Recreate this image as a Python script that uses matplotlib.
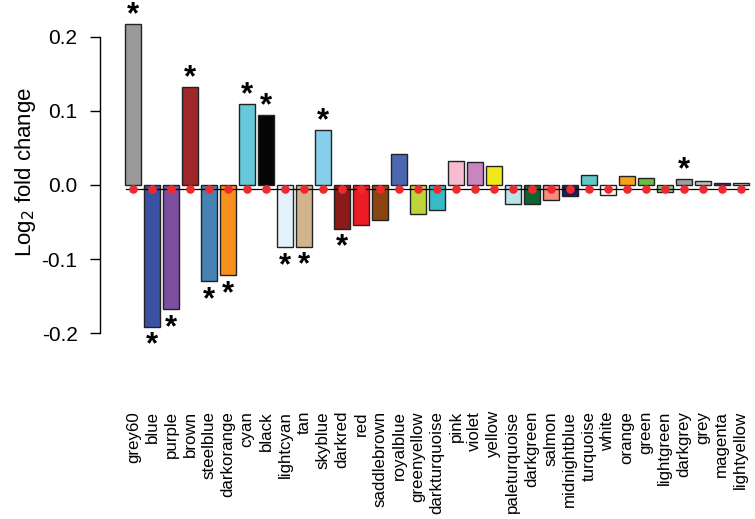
import matplotlib
matplotlib.use("Agg")
import matplotlib.pyplot as plt
import matplotlib.transforms as mtransforms
from matplotlib.textpath import TextPath
from matplotlib.font_manager import FontProperties
import numpy as np

plt.rcParams['font.family'] = ['Liberation Sans', 'DejaVu Sans']

categories = ["grey60", "blue", "purple", "brown", "steelblue", "darkorange", "cyan",
              "black", "lightcyan", "tan", "skyblue", "darkred", "red", "saddlebrown",
              "royalblue", "greenyellow", "darkturquoise", "pink", "violet", "yellow",
              "paleturquoise", "darkgreen", "salmon", "midnightblue", "turquoise", "white",
              "orange", "green", "lightgreen", "darkgrey", "grey", "magenta", "lightyellow"]
values = [0.2166, -0.191, -0.1676, 0.1317, -0.1299, -0.1218, 0.1092,
          0.0939, -0.084, -0.0836, 0.0746, -0.0593, -0.0539, -0.0476,
          0.0413, -0.0387, -0.0342, 0.0324, 0.031, 0.0261,
          -0.0261, -0.0256, -0.0198, -0.0153, 0.013, -0.0135,
          0.0117, 0.0099, -0.0099, 0.0085, 0.0054, 0.0027, 0.0027]
significant = ["grey60", "blue", "purple", "brown", "steelblue", "darkorange", "cyan",
               "black", "lightcyan", "tan", "skyblue", "darkred", "darkgrey"]
bar_colors = ["#9a9a9a", "#3b52a3", "#7d4f9f", "#a0282a", "#4682b4", "#f7901e", "#66c9da",
              "#050505", "#e3f1fa", "#d2b48c", "#87ceeb", "#8b1a1a", "#ed1c24", "#8b4513",
              "#4b67b0", "#bcd63a", "#36bcc8", "#f6bcd2", "#c985c0", "#f0e81c",
              "#bde3ea", "#0d6332", "#f48c80", "#1e1e5e", "#5ec9c6", "#ffffff",
              "#f7a21b", "#6bbe45", "#8fc98a", "#a0a0a0", "#c0c0c0", "#5e2d6a", "#d0d0c8"]
dot_level = -0.005
yticks = [-0.2, -0.1, 0.0, 0.1, 0.2]
ytick_labels = ["-0.2", "-0.1", "0.0", "0.1", "0.2"]

DPI = 100
px2pt = 72.0 / DPI

fig = plt.figure(figsize=(7.55, 5.19), dpi=DPI)
ax = fig.add_axes([100/755, 119/519, 655/755, 400/519])

x = np.arange(len(categories))
ax.bar(x, values, width=0.84, color=bar_colors, edgecolor="#222222", linewidth=1.0, zorder=2)
ax.plot([x[0] - 0.4, x[-1] + 0.4], [dot_level, dot_level], color="black", lw=0.9, zorder=3)
ax.plot(x, [dot_level] * len(x), 'o', color="#ee2a2e", markersize=6.2, markeredgewidth=0, zorder=4)

# asterisk sizing from glyph ink extents (measured at 100 pt, then scaled)
fp = FontProperties(family="Liberation Sans", weight="bold")
ext = TextPath((0, 0), "*", size=100.0, prop=fp).get_extents()
ink_lo, ink_hi = ext.y0 / 100.0, ext.y1 / 100.0
if not (0.2 < ink_hi - ink_lo < 0.6):
    ink_lo, ink_hi = 0.42, 0.73
target_h_pt = 11.5 * px2pt
star_fs = target_h_pt / (ink_hi - ink_lo)
lo_pt, hi_pt = ink_lo * star_fs, ink_hi * star_fs
gap_above = 10.6 * px2pt
gap_below = 5.4 * px2pt

for xi, v, c in zip(x, values, categories):
    if c in significant:
        if v > 0:
            dy = gap_above - lo_pt
        else:
            dy = -gap_below - hi_pt
        ax.annotate("*", (xi, v), xytext=(0, dy), textcoords="offset points",
                    ha="center", va="baseline", fontsize=star_fs, fontweight="bold")

ax.set_xlim(-1.754, 32.756)
ax.set_ylim(-0.2898, 0.2493)
for s in ["top", "right", "bottom"]:
    ax.spines[s].set_visible(False)
ax.spines["left"].set_bounds(-0.2, 0.2)
ax.spines["left"].set_linewidth(1.0)
ax.set_yticks(yticks)
ax.set_yticklabels(ytick_labels, fontsize=15)
ax.tick_params(axis="y", length=7.2, width=1.0, pad=9)
ax.set_xticks(x)
ax.set_xticklabels(categories, rotation=90, fontsize=12.2)
ax.tick_params(axis="x", length=0, pad=0)
offset = mtransforms.ScaledTranslation(0, -(411 - 400) / 100, fig.dpi_scale_trans)
for lbl in ax.get_xticklabels():
    lbl.set_va("top")
    lbl.set_transform(lbl.get_transform() + offset)

fig.text(25/755, 1 - 172/519, "Log$_2$ fold change", rotation=90, ha="center", va="center",
         fontsize=16)

fig.savefig("out.png", dpi=DPI)
